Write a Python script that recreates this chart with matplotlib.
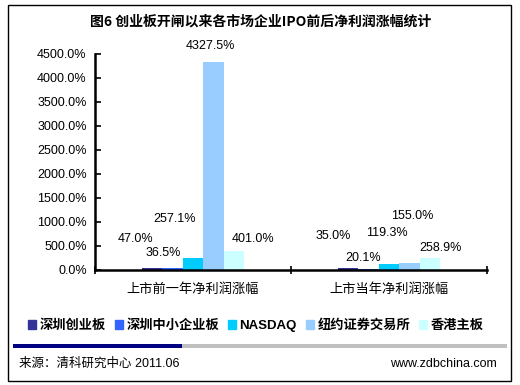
import numpy as np
import matplotlib
matplotlib.use("Agg")
import matplotlib.pyplot as plt
from matplotlib.patches import Rectangle

plt.rcParams['font.family'] = ['Liberation Sans', 'Noto Sans CJK SC', 'DejaVu Sans']

# --- Data ---
categories = ['上市前一年净利润涨幅', '上市当年净利润涨幅']
markets = ['深圳创业板', '深圳中小企业板', 'NASDAQ', '纽约证券交易所', '香港主板']
chuangye = [47.0, 35.0]
zhongxiao = [36.5, 20.1]
nasdaq = [257.1, 119.3]
nyse = [4327.5, 155.0]
hk_main = [401.0, 258.9]
yticks = np.arange(0, 4501, 500)

series = [chuangye, zhongxiao, nasdaq, nyse, hk_main]
colors = ['#333399', '#3366FF', '#00CCFF', '#99CCFF', '#CCFFFF']
# label offsets in pixels (dx, dy) from each bar top, mimicking hand-moved labels
label_offsets = [
    [(-17, 29), (-15, 32)],
    [(-9, 15), (-5, 11)],
    [(-18, 39), (-2, 31)],
    [(-3, 16), (3, 47)],
    [(19, 12), (11, 10)],
]

fig = plt.figure(figsize=(5.2, 3.85), dpi=100)
W, H = 520, 385

# outer frame
fig.patches.append(Rectangle((8 / W, 1 - 381 / H), 503 / W, 376 / H, transform=fig.transFigure,
                             fill=False, edgecolor='black', linewidth=1.0))

ax = fig.add_axes([95 / W, 1 - 270 / H, 392 / W, 216 / H])
x = np.arange(len(categories))
width = 0.104
for i, (vals, col) in enumerate(zip(series, colors)):
    pos = x + (i - 2) * width
    ax.bar(pos, vals, width=width, color=col, label=markets[i], linewidth=0)
    for j, v in enumerate(vals):
        dx, dy = label_offsets[i][j]
        ax.annotate(f'{v:.1f}%', (pos[j], v), xytext=(dx, dy), textcoords='offset pixels',
                    ha='center', va='center', fontsize=9, family='Liberation Sans')

ax.set_xlim(-0.5, 1.5)
ax.set_ylim(0, 4500)
ax.set_yticks(yticks)
ax.set_yticklabels([f'{t:.1f}%' for t in yticks], fontsize=9)
ax.tick_params(axis='y', direction='in', length=4, width=1.2, pad=6)
ax.set_xticks([-0.5, 0.5, 1.5])
ax.set_xticklabels([])
ax.tick_params(axis='x', direction='inout', length=6, width=1.2)
for s in ['top', 'right']:
    ax.spines[s].set_visible(False)
for s in ['left', 'bottom']:
    ax.spines[s].set_linewidth(1.8)
for j, c in enumerate(categories):
    ax.text(j, -0.09, c, transform=ax.get_xaxis_transform(), ha='center', va='center',
            fontsize=9.5, family='Noto Sans CJK SC')

fig.text(261 / W, 1 - 22 / H, '图6 创业板开闸以来各市场企业IPO前后净利润涨幅统计',
         ha='center', va='center', fontsize=10, fontweight='bold', family='Noto Sans CJK SC')

handles = [Rectangle((0, 0), 1, 1, color=c) for c in colors]
fig.legend(handles, markets, loc='center', bbox_to_anchor=(256 / W, 1 - 326 / H), ncol=5,
           frameon=False, handlelength=0.6, handleheight=0.6, handletextpad=0.25,
           columnspacing=0.7, prop={'family': ['Liberation Sans', 'Noto Sans CJK SC'],
                                    'weight': 'bold', 'size': 9.5})

# bottom divider bar
fig.patches.append(Rectangle((13 / W, 1 - 348 / H), 169 / W, 4 / H, transform=fig.transFigure,
                             color='#000080', linewidth=0))
fig.patches.append(Rectangle((182 / W, 1 - 348 / H), 325 / W, 4 / H, transform=fig.transFigure,
                             color='#C0C0C0', linewidth=0))

fig.text(19 / W, 1 - 364 / H, '来源：清科研究中心 2011.06', ha='left', va='center', fontsize=9)
fig.text(497 / W, 1 - 364 / H, 'www.zdbchina.com', ha='right', va='center', fontsize=9)

fig.savefig('out.png', dpi=100)
